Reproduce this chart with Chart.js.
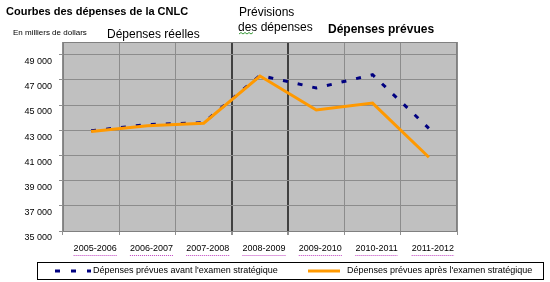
<!DOCTYPE html>
<html lang="fr">
<head>
<meta charset="utf-8">
<title>Courbes des dépenses de la CNLC</title>
<script src="https://cdn.jsdelivr.net/npm/chart.js@4"></script>
<style>
  html, body { margin: 0; padding: 0; background: #fff; }
  #zone { width: 550px; height: 282px; }
</style>
</head>
<body>
<div id="zone"><canvas id="graphique"></canvas></div>
<script>
// Données du graphique
let annees = ['2005-2006', '2006-2007', '2007-2008', '2008-2009', '2009-2010', '2010-2011', '2011-2012'];
let avantExamen = [42950, 43450, 43600, 47350, 46350, 47400, 43150];
let apresExamen = [42900, 43350, 43550, 47300, 44600, 45150, 40850];
let graduations = [35000, 37000, 39000, 41000, 43000, 45000, 47000, 49000];

let police = '"Liberation Sans", Arial, sans-serif';

// Fond gris de la zone de tracé + cadre
const fondGris = {
  id: 'fondGris',
  beforeDraw(chart) {
    let ctx = chart.ctx;
    let a = chart.chartArea;
    ctx.save();
    ctx.fillStyle = '#c0c0c0';
    ctx.fillRect(a.left, a.top, a.right - a.left, a.bottom - a.top);
    ctx.restore();
  },
  afterDatasetsDraw(chart) {
    let ctx = chart.ctx;
    let a = chart.chartArea;
    ctx.save();
    ctx.strokeStyle = '#808080';
    ctx.lineWidth = 1;
    ctx.strokeRect(a.left + 0.5, a.top + 0.5, a.right - a.left - 1, a.bottom - a.top);
    ctx.restore();
  }
};

// Titres, légende encadrée, soulignements
const textes = {
  id: 'textes',
  afterDraw(chart) {
    let ctx = chart.ctx;
    ctx.save();
    ctx.fillStyle = '#000';
    ctx.textBaseline = 'middle';
    ctx.textAlign = 'left';

    ctx.font = 'bold 11px ' + police;
    ctx.fillText('Courbes des dépenses de la CNLC', 6, 12);

    ctx.font = '8px ' + police;
    ctx.fillText('En milliers de dollars', 13, 33);

    ctx.font = '12px ' + police;
    ctx.fillText('Dépenses réelles', 107, 35);
    ctx.fillText('Prévisions', 239, 13);
    ctx.fillText('des dépenses', 238, 28);

    ctx.font = 'bold 12px ' + police;
    ctx.fillText('Dépenses prévues', 328, 30);

    // petite vague verte sous "des"
    ctx.strokeStyle = '#3a9a3a';
    ctx.lineWidth = 1;
    ctx.beginPath();
    for (let x = 239; x <= 254; x += 2) {
      let y = ((x - 239) / 2) % 2 === 0 ? 34 : 32.5;
      if (x === 239) ctx.moveTo(x, y); else ctx.lineTo(x, y);
    }
    ctx.stroke();

    // pointillés violets sous les années
    let echelleX = chart.scales.x;
    ctx.font = '9px ' + police;
    ctx.strokeStyle = '#c040c0';
    ctx.setLineDash([1, 1]);
    for (let i = 0; i < annees.length; i++) {
      let cx = echelleX.getPixelForTick(i) + 4;
      let w = ctx.measureText(annees[i]).width;
      ctx.beginPath();
      ctx.moveTo(cx - w / 2, 255.5);
      ctx.lineTo(cx + w / 2, 255.5);
      ctx.stroke();
    }
    ctx.setLineDash([]);

    // cadre de la légende
    ctx.strokeStyle = '#000';
    ctx.lineWidth = 1;
    ctx.strokeRect(37.5, 262.5, 506, 17);

    let ds = chart.data.datasets;
    // série 1 : tirets bleus
    ctx.strokeStyle = ds[0].borderColor;
    ctx.lineWidth = 3;
    ctx.setLineDash([5, 11]);
    ctx.beginPath();
    ctx.moveTo(55, 271);
    ctx.lineTo(91, 271);
    ctx.stroke();
    ctx.setLineDash([]);
    ctx.font = '9px ' + police;
    ctx.fillText(ds[0].label, 93, 271);

    // série 2 : ligne orange
    ctx.strokeStyle = ds[1].borderColor;
    ctx.beginPath();
    ctx.moveTo(308, 271);
    ctx.lineTo(340, 271);
    ctx.stroke();
    ctx.fillText(ds[1].label, 347, 271);

    ctx.restore();
  }
};

const monGraphique = new Chart(document.getElementById('graphique'), {
  type: 'line',
  data: {
    labels: annees,
    datasets: [
      {
        label: "Dépenses prévues avant l'examen stratégique",
        data: avantExamen,
        borderColor: '#000080',
        borderWidth: 3,
        borderDash: [5, 10],
        pointRadius: 0,
        tension: 0,
        order: 1
      },
      {
        label: "Dépenses prévues après l'examen stratégique",
        data: apresExamen,
        borderColor: '#ff9900',
        borderWidth: 3,
        pointRadius: 0,
        tension: 0,
        order: 0
      }
    ]
  },
  options: {
    responsive: true,
    maintainAspectRatio: false,
    animation: false,
    layout: { padding: { top: 42, right: 93, left: 0, bottom: 0 } },
    plugins: {
      legend: { display: false },
      tooltip: { enabled: false }
    },
    scales: {
      x: {
        offset: true,
        afterFit(scale) { scale.height = 51; },
        border: { display: false },
        grid: {
          offset: true,
          tickLength: 4,
          tickColor: '#909090',
          color(c) { return (c.index === 3 || c.index === 4) ? '#404040' : '#8c8c8c'; },
          lineWidth(c) { return (c.index === 3 || c.index === 4) ? 2 : 1; }
        },
        ticks: {
          color: '#000',
          font: { family: police, size: 9 },
          padding: 8,
          labelOffset: 4,
          maxRotation: 0,
          autoSkip: false
        }
      },
      y: {
        min: 35000,
        max: 50000,
        afterFit(scale) { scale.width = 63; },
        afterBuildTicks(scale) {
          scale.ticks = graduations.map(v => ({ value: v }));
        },
        border: { display: false },
        grid: {
          color: '#8c8c8c',
          tickLength: 4,
          tickColor: '#909090'
        },
        ticks: {
          color: '#000',
          font: { family: police, size: 9 },
          padding: 7,
          labelOffset: 7,
          callback(v) { return String(v).replace(/(\d{2})(\d{3})$/, '$1 $2'); }
        }
      }
    }
  },
  plugins: [fondGris, textes]
});
</script>
</body>
</html>
